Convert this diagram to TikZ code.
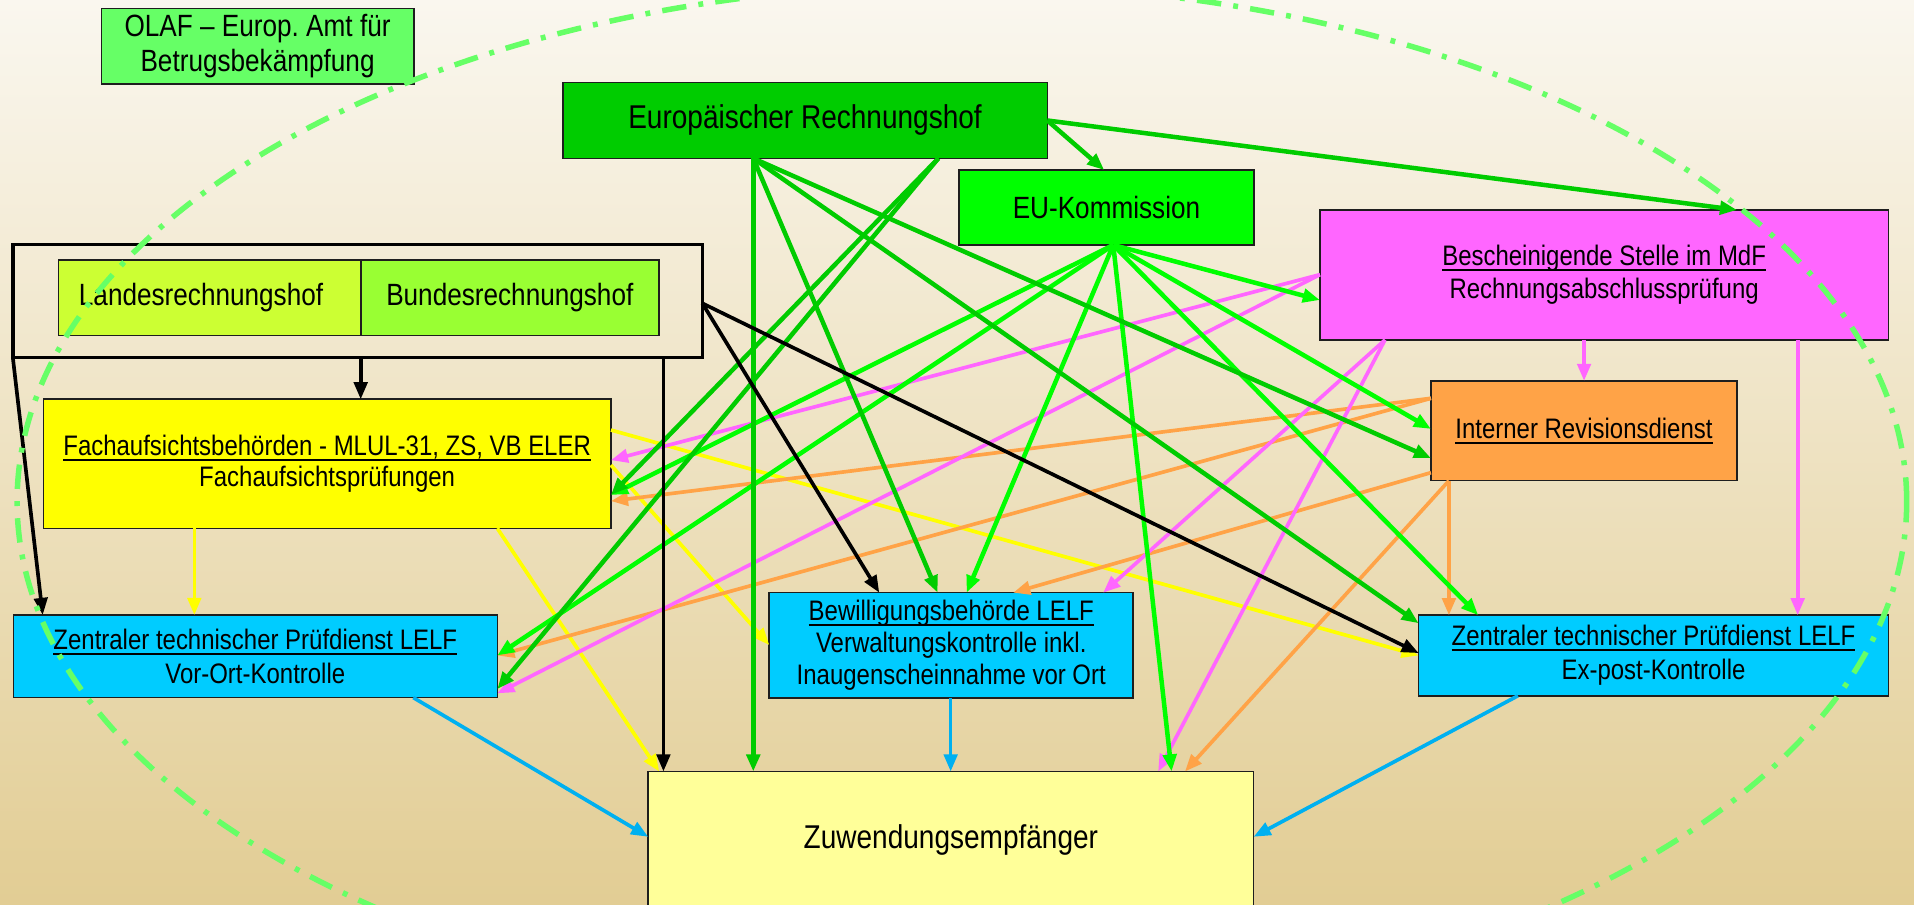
\documentclass[tikz,border=0pt]{standalone}
\usepackage{fontspec}
\setmainfont{Liberation Sans}[FakeStretch=0.85]
\usetikzlibrary{arrows.meta}
\definecolor{bgtop}{HTML}{FAF7EF}
\definecolor{bgbot}{HTML}{E2CD94}
\definecolor{cERH}{HTML}{00CC00}
\definecolor{cEUK}{HTML}{00FF00}
\definecolor{cOLAF}{HTML}{66FF66}
\definecolor{cLand}{HTML}{CCFF33}
\definecolor{cBund}{HTML}{99FF33}
\definecolor{cBst}{HTML}{FF66FF}
\definecolor{cFach}{HTML}{FFFF00}
\definecolor{cIrev}{HTML}{FFA347}
\definecolor{cBlue}{HTML}{00CCFF}
\definecolor{cZuw}{HTML}{FFFF99}
\definecolor{cLine}{HTML}{00B0F0}
\definecolor{boxline}{HTML}{1E1E1E}
\newcommand\ulx[1]{\setbox0\hbox{#1}\rlap{\rule[-4.3pt]{\wd0}{1.6pt}}\box0}
\frenchspacing
\begin{document}
\begin{tikzpicture}[x=1pt,y=-1pt,
  box/.style={draw=boxline,line width=1.3pt,inner sep=0pt,outer sep=0pt,anchor=north west,align=center,text=black},
  fL/.style={font=\fontsize{27}{32}\selectfont},
  fM/.style={font=\fontsize{25.2}{28}\selectfont},
  fS/.style={font=\fontsize{23.1}{28}\selectfont},
  con/.style={line width=3pt,-{Triangle[length=14pt,width=11pt]}},
  cblk/.style={con,draw=black},
  cdg/.style={con,draw=cERH,line width=3.7pt},
  cbg/.style={con,draw=cEUK,line width=3.7pt},
  cpk/.style={con,draw=cBst},
  cor/.style={con,draw=cIrev},
  cyl/.style={con,draw=cFach},
  cbl/.style={con,draw=cLine},
  ring/.style={draw=cOLAF,line width=4.5pt,dash pattern=on 20pt off 10pt on 4pt off 10pt}
]
\useasboundingbox (0,0) rectangle (1568,741);
\clip (0,0) rectangle (1568,741);
\shade[top color=bgtop,bottom color=bgbot] (0,0) rectangle (1568,741);

% boxes
\node[box,fill=cOLAF,minimum width=256pt,minimum height=62pt,fM] (olaf) at (83,6.8) {OLAF – Europ. Amt für\\Betrugsbekämpfung};
\node[box,fill=cERH,minimum width=397pt,minimum height=62pt,fL] (erh) at (461,67.7) {Europäischer Rechnungshof};
\node[box,fill=cEUK,minimum width=241.7pt,minimum height=61.4pt,fM] (euk) at (785.6,139.3) {EU-Kommission};
\node[box,fill=cBst,minimum width=465.7pt,minimum height=106.5pt,font=\fontsize{23.1}{27.2}\selectfont] (bst) at (1081.3,172) {\ulx{Bescheinigende Stelle im MdF}\\Rechnungsabschlussprüfung};
\node[draw=black,line width=2.8pt,inner sep=0pt,outer sep=0pt,anchor=north west,minimum width=564.9pt,minimum height=92.5pt] (frame) at (10.5,200.2) {};
\node[box,fill=cLand,minimum width=247.6pt,minimum height=61.7pt,fM] (landes) at (47.9,213) {\hspace*{-14pt}Landesrechnungshof};
\node[box,fill=cBund,minimum width=244.3pt,minimum height=61.7pt,fM] (bundes) at (295.5,213) {Bundesrechnungshof};
\node[box,fill=cFach,minimum width=465pt,minimum height=105.7pt,font=\fontsize{23.1}{25.5}\selectfont] (fach) at (35.5,327.1) {\ulx{Fachaufsichtsbehörden - MLUL-31, ZS, VB ELER}\\Fachaufsichtsprüfungen};
\node[box,fill=cIrev,minimum width=250.7pt,minimum height=81.8pt,fS] (irev) at (1172.3,312) {\ulx{Interner Revisionsdienst}};
\node[box,fill=cBlue,minimum width=396.5pt,minimum height=67.7pt,fS] (ztpv) at (10.9,503.8) {\ulx{Zentraler technischer Prüfdienst LELF}\\Vor-Ort-Kontrolle};
\node[box,fill=cBlue,minimum width=298.2pt,minimum height=86.5pt,font=\fontsize{23.1}{26}\selectfont] (bew) at (630.2,485.5) {\ulx{Bewilligungsbehörde LELF}\\Verwaltungskontrolle inkl.\\Inaugenscheinnahme vor Ort};
\node[box,fill=cBlue,minimum width=384.8pt,minimum height=66pt,fS] (ztpe) at (1162.2,504) {\ulx{Zentraler technischer Prüfdienst LELF}\\Ex-post-Kontrolle};
\node[box,fill=cZuw,minimum width=496pt,minimum height=112pt,fL] (zuw) at (531,632) {Zuwendungsempfänger};

% yellow
\draw[cyl] ([yshift=-25.2pt]fach.north east) -- ([yshift=-33pt]ztpe.north west);
\draw[cyl] ([yshift=-53.9pt]fach.north east) -- ([yshift=-42.9pt]bew.north west);
\draw[cyl] ([xshift=371.9pt]fach.south west) -- ([xshift=9pt]zuw.north west);
\draw[cyl] ([xshift=123.7pt]fach.south west) -- ([xshift=148.3pt]ztpv.north west);

% orange
\draw[cor] ([yshift=-14.3pt]irev.north west) -- ([yshift=-83.4pt]fach.north east);
\draw[cor] ([yshift=-14.3pt]irev.north west) -- ([yshift=-33.2pt]ztpv.north east);
\draw[cor] ([yshift=-75.2pt]irev.north west) -- ([xshift=199.9pt]bew.north west);
\draw[cor] ([xshift=14.7pt]irev.south west) -- ([xshift=24.8pt]ztpe.north west);
\draw[cor] ([xshift=14.7pt]irev.south west) -- ([xshift=439.8pt]zuw.north west);

% pink
\draw[cpk] ([yshift=-53pt]bst.north west) -- ([yshift=-49.9pt]fach.north east);
\draw[cpk] ([yshift=-53pt]bst.north west) -- ([yshift=-64.2pt]ztpv.north east);
\draw[cpk] ([xshift=53.3pt]bst.south west) -- ([xshift=273.6pt]bew.north west);
\draw[cpk] ([xshift=53.3pt]bst.south west) -- ([xshift=417.8pt]zuw.north west);
\draw[cpk] ([xshift=216.4pt]bst.south west) -- ([xshift=125.4pt]irev.north west);
\draw[cpk] ([xshift=391.4pt]bst.south west) -- ([xshift=310.5pt]ztpe.north west);

% bright green (EU-Kommission)
\draw[cbg] ([xshift=126.4pt]euk.south west) -- ([yshift=-73.8pt]bst.north west);
\draw[cbg] ([xshift=126.4pt]euk.south west) -- ([yshift=-39.4pt]irev.north west);
\draw[cbg] ([xshift=126.4pt]euk.south west) -- ([xshift=48.8pt]ztpe.north west);
\draw[cbg] ([xshift=126.4pt]euk.south west) -- ([xshift=428.8pt]zuw.north west);
\draw[cbg] ([xshift=126.4pt]euk.south west) -- ([xshift=161.7pt]bew.north west);
\draw[cbg] ([xshift=126.4pt]euk.south west) -- ([yshift=-78.4pt]fach.north east);
\draw[cbg] ([xshift=126.4pt]euk.south west) -- ([yshift=-33.2pt]ztpv.north east);

% dark green (Europ. Rechnungshof)
\draw[cdg] (erh.east) -- ([xshift=119pt]euk.north west);
\draw[cdg] (erh.east) -- ([xshift=341.7pt]bst.north west);
\draw[cdg] ([xshift=156.1pt]erh.south west) -- ([xshift=86.1pt]zuw.north west);
\draw[cdg] ([xshift=156.1pt]erh.south west) -- ([xshift=137.9pt]bew.north west);
\draw[cdg] ([xshift=156.1pt]erh.south west) -- ([yshift=-63.3pt]irev.north west);
\draw[cdg] ([xshift=156.1pt]erh.south west) -- ([yshift=-6.6pt]ztpe.north west);
\draw[cdg] ([xshift=307.7pt]erh.south west) -- ([yshift=-78.4pt]fach.north east);
\draw[cdg] ([xshift=307.7pt]erh.south west) -- ([yshift=-60.7pt]ztpv.north east);

% black (Landes-/Bundesrechnungshof)
\draw[cblk] ([xshift=285pt]frame.south west) -- ([xshift=260pt]fach.north west);
\draw[cblk] (frame.south west) -- ([xshift=24.1pt]ztpv.north west);
\draw[cblk] ([xshift=533pt]frame.south west) -- ([xshift=12.5pt]zuw.north west);
\draw[cblk] ([yshift=-48.3pt]frame.north east) -- ([xshift=90.1pt]bew.north west);
\draw[cblk] ([yshift=-48.3pt]frame.north east) -- ([yshift=-31pt]ztpe.north west);

% blue
\draw[cbl] ([xshift=327.7pt]ztpv.south west) -- ([yshift=-53.5pt]zuw.north west);
\draw[cbl] ([xshift=148.6pt]bew.south west) -- ([xshift=247.8pt]zuw.north west);
\draw[cbl] ([xshift=81.3pt]ztpe.south west) -- ([yshift=-53.5pt]zuw.north east);

% OLAF scope
\draw[ring] (788,411) ellipse [x radius=774pt, y radius=424pt];
\end{tikzpicture}
\end{document}
